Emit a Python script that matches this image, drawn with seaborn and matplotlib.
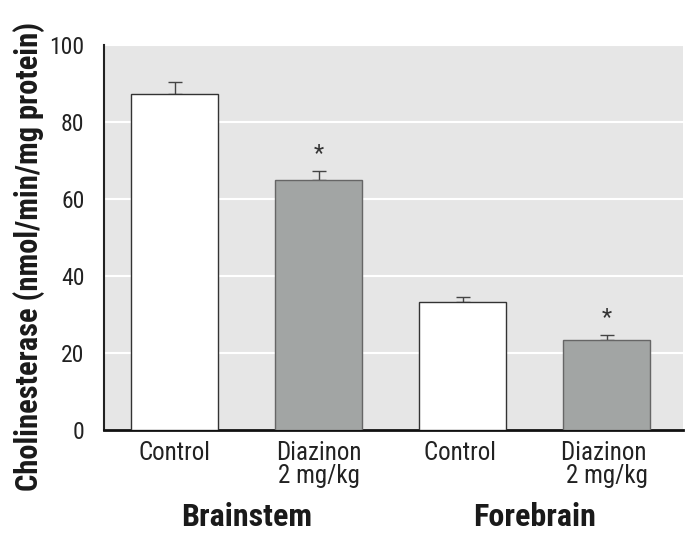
import matplotlib
matplotlib.use("Agg")
import matplotlib.pyplot as plt
import seaborn as sns
import pandas as pd
import numpy as np

categories = ["Control", "Diazinon\n2 mg/kg", "Control ", "Diazinon \n2 mg/kg"]
values = [87.3, 64.9, 33.2, 23.4]
sems = [3.1, 2.4, 1.3, 1.3]
colors = ["#ffffff", "#a2a5a4", "#ffffff", "#a2a5a4"]
groups = ["Brainstem", "Forebrain"]
star_positions = [1, 3]
yticks = [0, 20, 40, 60, 80, 100]

sns.set_theme(style="white")
plt.rcParams["font.family"] = ["Roboto Condensed", "DejaVu Sans"]

df = pd.DataFrame({"cat": categories, "val": values})

fig = plt.figure(figsize=(6.91, 5.37), dpi=100)
ax = fig.add_axes([104/691, 1-430/537, (683-104)/691, (430-45)/537])
ax.set_facecolor("#e6e6e6")

sns.barplot(data=df, x="cat", y="val", hue="cat", palette=colors, legend=False,
            width=0.6, edgecolor="#333333", linewidth=1.0, ax=ax, zorder=3)
for i, p in enumerate(ax.patches):
    if colors[i % len(colors)] != "#ffffff":
        p.set_edgecolor("#666666")

x = np.arange(len(values))
ax.errorbar(x, values, yerr=[np.zeros(len(values)), sems], fmt="none",
            ecolor="#444444", elinewidth=1.0, capsize=5, capthick=1.0, zorder=2)
for i in star_positions:
    ax.text(i, values[i] + sems[i] + 4.5, "*", ha="center", va="center",
            fontsize=17, color="#333333")

ax.set_ylim(0, 100)
ax.set_xlim(-0.49, 3.53)
ax.set_yticks(yticks)
ax.set_yticklabels([str(t) for t in yticks], fontsize=17, color="#222222")
ax.yaxis.grid(True, color="white", linewidth=1.5, zorder=0)
ax.set_axisbelow(True)
ax.tick_params(axis="y", left=False, pad=8)
ax.tick_params(axis="x", bottom=False, pad=2)
ax.set_xticks(x)
ax.set_xticklabels(categories, fontsize=18, color="#222222", linespacing=0.95)
ax.set_xlabel("")
ax.set_ylabel("Cholinesterase (nmol/min/mg protein)", fontsize=22, fontweight="bold",
              color="#1a1a1a")
ax.yaxis.set_label_coords(-0.102, 0.45)
for s in ["top", "right"]:
    ax.spines[s].set_visible(False)
ax.spines["left"].set_color("#222222")
ax.spines["left"].set_linewidth(1.5)
ax.spines["bottom"].set_color("#111111")
ax.spines["bottom"].set_linewidth(2.0)

for gi, g in enumerate(groups):
    ax.text(gi * 2 + 0.5, -22.5, g, ha="center", va="center", fontsize=23,
            fontweight="bold", color="#1a1a1a", transform=ax.transData, clip_on=False)

fig.savefig("out.png", dpi=100)
